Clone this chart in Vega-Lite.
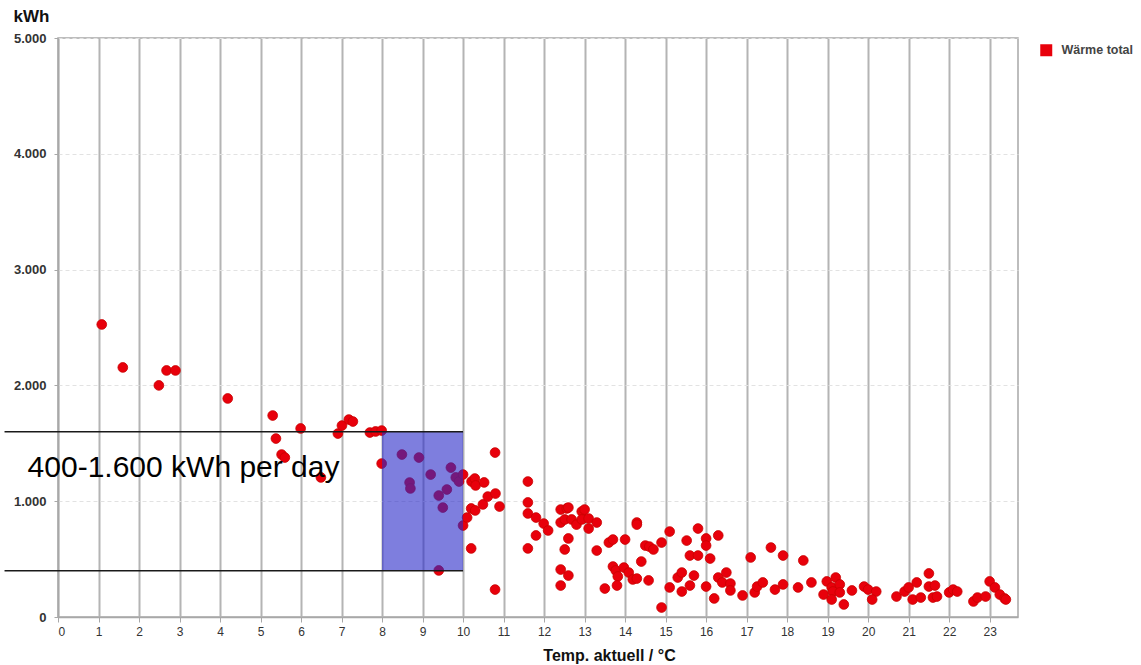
{
  "$schema": "https://vega.github.io/schema/vega-lite/v6.json",
  "autosize": "none",
  "width": 960,
  "height": 579,
  "padding": {"left": 58, "top": 38, "right": 123, "bottom": 48},
  "background": "white",
  "config": {
    "view": {"stroke": "#a8a8a8", "strokeWidth": 1.5},
    "font": "Liberation Sans"
  },
  "datasets": {
    "heat": [
      {"t": 1.08, "e": 2526}, {"t": 1.60, "e": 2155}, {"t": 2.49, "e": 2000}, {"t": 2.68, "e": 2129},
      {"t": 2.90, "e": 2129}, {"t": 4.19, "e": 1887}, {"t": 5.30, "e": 1740}, {"t": 5.38, "e": 1541},
      {"t": 5.52, "e": 1403}, {"t": 5.60, "e": 1377}, {"t": 5.99, "e": 1628}, {"t": 6.49, "e": 1205},
      {"t": 6.91, "e": 1584}, {"t": 7.01, "e": 1653}, {"t": 7.18, "e": 1705}, {"t": 7.28, "e": 1688},
      {"t": 7.70, "e": 1593}, {"t": 7.84, "e": 1602}, {"t": 7.99, "e": 1610}, {"t": 7.99, "e": 1325},
      {"t": 8.49, "e": 1403}, {"t": 8.91, "e": 1377}, {"t": 8.68, "e": 1161}, {"t": 8.70, "e": 1110},
      {"t": 9.20, "e": 1230}, {"t": 9.70, "e": 1290}, {"t": 9.82, "e": 1205}, {"t": 9.90, "e": 1170},
      {"t": 10.00, "e": 1230}, {"t": 9.60, "e": 1101}, {"t": 9.40, "e": 1049}, {"t": 9.50, "e": 945},
      {"t": 9.40, "e": 402}, {"t": 10.00, "e": 790}, {"t": 10.10, "e": 859}, {"t": 10.20, "e": 937},
      {"t": 10.30, "e": 920}, {"t": 10.21, "e": 1170}, {"t": 10.29, "e": 1196}, {"t": 10.31, "e": 1136},
      {"t": 10.52, "e": 1162}, {"t": 10.20, "e": 592}, {"t": 10.49, "e": 972}, {"t": 10.61, "e": 1040},
      {"t": 10.80, "e": 1066}, {"t": 10.90, "e": 954}, {"t": 10.79, "e": 1420}, {"t": 10.79, "e": 237},
      {"t": 11.60, "e": 1170}, {"t": 11.60, "e": 989}, {"t": 11.60, "e": 894}, {"t": 11.60, "e": 592},
      {"t": 11.80, "e": 859}, {"t": 11.80, "e": 704}, {"t": 11.99, "e": 807}, {"t": 12.10, "e": 747},
      {"t": 12.41, "e": 928}, {"t": 12.56, "e": 937}, {"t": 12.60, "e": 945}, {"t": 12.41, "e": 816},
      {"t": 12.51, "e": 842}, {"t": 12.68, "e": 842}, {"t": 12.80, "e": 798}, {"t": 12.93, "e": 911},
      {"t": 13.00, "e": 928}, {"t": 12.93, "e": 842}, {"t": 13.10, "e": 850}, {"t": 13.10, "e": 764},
      {"t": 13.30, "e": 816}, {"t": 12.60, "e": 678}, {"t": 12.51, "e": 583}, {"t": 12.41, "e": 410},
      {"t": 12.60, "e": 358}, {"t": 12.41, "e": 272}, {"t": 13.30, "e": 574}, {"t": 13.50, "e": 246},
      {"t": 13.60, "e": 643}, {"t": 13.70, "e": 669}, {"t": 14.00, "e": 669}, {"t": 13.70, "e": 436},
      {"t": 13.77, "e": 402}, {"t": 13.82, "e": 350}, {"t": 13.97, "e": 427}, {"t": 13.80, "e": 272},
      {"t": 14.09, "e": 384}, {"t": 14.19, "e": 324}, {"t": 14.29, "e": 332}, {"t": 14.29, "e": 816},
      {"t": 14.29, "e": 798}, {"t": 14.40, "e": 479}, {"t": 14.58, "e": 316}, {"t": 14.50, "e": 617},
      {"t": 14.60, "e": 608}, {"t": 14.70, "e": 583}, {"t": 14.90, "e": 643}, {"t": 15.10, "e": 738},
      {"t": 14.90, "e": 82}, {"t": 15.10, "e": 255}, {"t": 15.30, "e": 341}, {"t": 15.40, "e": 384},
      {"t": 15.40, "e": 220}, {"t": 15.52, "e": 660}, {"t": 15.60, "e": 272}, {"t": 15.60, "e": 531},
      {"t": 15.70, "e": 358}, {"t": 15.80, "e": 531}, {"t": 15.80, "e": 764}, {"t": 16.00, "e": 678},
      {"t": 16.00, "e": 617}, {"t": 16.10, "e": 505}, {"t": 16.00, "e": 263}, {"t": 16.20, "e": 160},
      {"t": 16.30, "e": 704}, {"t": 16.30, "e": 341}, {"t": 16.40, "e": 298}, {"t": 16.50, "e": 384},
      {"t": 16.60, "e": 289}, {"t": 16.60, "e": 229}, {"t": 16.90, "e": 186}, {"t": 17.10, "e": 514},
      {"t": 17.20, "e": 212}, {"t": 17.26, "e": 263}, {"t": 17.40, "e": 298}, {"t": 17.60, "e": 600},
      {"t": 17.70, "e": 237}, {"t": 17.90, "e": 531}, {"t": 17.90, "e": 281}, {"t": 18.27, "e": 255},
      {"t": 18.40, "e": 488}, {"t": 18.60, "e": 298}, {"t": 18.98, "e": 307}, {"t": 19.20, "e": 341},
      {"t": 18.90, "e": 194}, {"t": 19.10, "e": 255}, {"t": 19.13, "e": 220}, {"t": 19.30, "e": 281},
      {"t": 19.30, "e": 212}, {"t": 19.10, "e": 151}, {"t": 19.40, "e": 108}, {"t": 19.60, "e": 229},
      {"t": 19.90, "e": 263}, {"t": 20.00, "e": 237}, {"t": 20.20, "e": 220}, {"t": 20.10, "e": 151},
      {"t": 20.70, "e": 177}, {"t": 20.90, "e": 220}, {"t": 21.00, "e": 255}, {"t": 21.20, "e": 298},
      {"t": 21.10, "e": 151}, {"t": 21.30, "e": 168}, {"t": 21.50, "e": 376}, {"t": 21.50, "e": 263},
      {"t": 21.65, "e": 272}, {"t": 21.60, "e": 168}, {"t": 21.70, "e": 177}, {"t": 22.00, "e": 212},
      {"t": 22.10, "e": 237}, {"t": 22.20, "e": 220}, {"t": 22.60, "e": 134}, {"t": 22.70, "e": 168},
      {"t": 22.90, "e": 177}, {"t": 23.00, "e": 307}, {"t": 23.13, "e": 255}, {"t": 23.25, "e": 194},
      {"t": 23.37, "e": 160}, {"t": 23.40, "e": 151}
    ],
    "band": [{"t1": 8, "t2": 10, "e1": 400, "e2": 1600}],
    "limits": [
      {"t1": -1.32, "t2": 10, "e": 1600},
      {"t1": -1.32, "t2": 10, "e": 400}
    ],
    "note": [{"t": -0.75, "e": 1213, "label": "400-1.600 kWh per day"}]
  },
  "layer": [
    {
      "data": {"name": "heat"},
      "transform": [{"calculate": "'Wärme total'", "as": "series"}],
      "mark": {"type": "point", "shape": "circle", "filled": true, "size": 95, "opacity": 1, "stroke": "#c80000", "strokeWidth": 0.8},
      "encoding": {
        "x": {
          "field": "t", "type": "quantitative",
          "scale": {"domain": [0, 23.7], "nice": false, "zero": false},
          "axis": {
            "values": [0,1,2,3,4,5,6,7,8,9,10,11,12,13,14,15,16,17,18,19,20,21,22,23],
            "title": "Temp. aktuell / °C",
            "titleFont": "Liberation Sans", "titleFontSize": 16, "titleFontWeight": "bold", "titleColor": "#111111",
            "titleX": 551, "titleY": 38, "titleBaseline": "middle", "titleAnchor": null,
            "labelFont": "Liberation Sans", "labelFontSize": 12, "labelColor": "#333333", "labelPadding": 4,
            "domainColor": "#a8a8a8", "domainWidth": 1.5,
            "tickColor": "#a8a8a8", "tickSize": 5, "tickWidth": 1,
            "grid": true, "gridColor": "#b4b4b4", "gridWidth": 2
          }
        },
        "y": {
          "field": "e", "type": "quantitative",
          "scale": {"domain": [0, 5000], "nice": false},
          "axis": {
            "values": [0, 1000, 2000, 3000, 4000, 5000],
            "labelExpr": "replace(format(datum.value, ','), ',', '.')",
            "title": "kWh", "titleAngle": 0, "titleAlign": "left", "titleBaseline": "middle",
            "titleX": -45, "titleY": -22,
            "titleFont": "Liberation Sans", "titleFontSize": 17, "titleFontWeight": "bold", "titleColor": "#111111",
            "labelFont": "Liberation Sans", "labelFontSize": 13, "labelFontWeight": "bold", "labelColor": "#333333", "labelPadding": 8,
            "domainColor": "#a8a8a8", "domainWidth": 1.5,
            "tickColor": "#a8a8a8", "tickSize": 4,
            "grid": true, "gridColor": "#e2e2e2", "gridWidth": 1, "gridDash": [4, 3]
          }
        },
        "color": {
          "field": "series", "type": "nominal",
          "scale": {"domain": ["Wärme total"], "range": ["#e8000b"]},
          "legend": {
            "title": null, "orient": "none", "legendX": 982, "legendY": 6,
            "symbolType": "square", "symbolSize": 144, "symbolStrokeWidth": 0,
            "labelFont": "Liberation Sans", "labelFontSize": 12.5, "labelFontWeight": "bold", "labelColor": "#444444",
            "labelOffset": 9, "padding": 0
          }
        }
      }
    },
    {
      "data": {"name": "band"},
      "mark": {"type": "rect", "color": "#2828c8", "opacity": 0.6},
      "encoding": {
        "x": {"field": "t1", "type": "quantitative"},
        "x2": {"field": "t2"},
        "y": {"field": "e1", "type": "quantitative"},
        "y2": {"field": "e2"}
      }
    },
    {
      "data": {"name": "limits"},
      "mark": {"type": "rule", "color": "#1a1a1a", "strokeWidth": 1.5},
      "encoding": {
        "x": {"field": "t1", "type": "quantitative"},
        "x2": {"field": "t2"},
        "y": {"field": "e", "type": "quantitative"}
      }
    },
    {
      "data": {"name": "note"},
      "mark": {"type": "text", "align": "left", "baseline": "alphabetic", "font": "Liberation Sans", "fontSize": 30, "color": "#000000"},
      "encoding": {
        "x": {"field": "t", "type": "quantitative"},
        "y": {"field": "e", "type": "quantitative"},
        "text": {"field": "label"}
      }
    }
  ]
}
